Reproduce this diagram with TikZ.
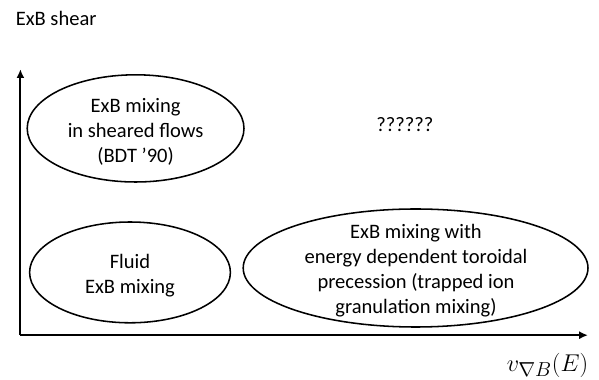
\documentclass[tikz,border=0pt]{standalone}
\usepackage{fontspec}
\setmainfont{Carlito}
\usetikzlibrary{arrows.meta}

\begin{document}
\begin{tikzpicture}[line width=1.1pt,>={Latex[length=2.2mm,width=2mm]},
  region/.style={line width=1.1pt},
  regtext/.style={align=center,inner sep=0pt,font=\fontsize{14.6}{17.8}\selectfont}]
\useasboundingbox (0,0) rectangle (14.975,9.5);
% ================= axes =================
\coordinate (origin) at (0.51,1.12);
\coordinate (ytip) at (0.51,7.77);
\coordinate (xtip) at (14.70,1.12);
\draw[->,line width=1.3pt] (origin) -- (ytip);
\draw[->,line width=1.3pt] (origin) -- (xtip);
\node[anchor=base west,inner sep=0pt,font=\fontsize{14.6}{17.8}\selectfont] (ylab) at (0.375,8.85) {ExB shear};
\node[anchor=base east,inner sep=0pt,font=\fontsize{19}{22}\selectfont] (xlab) at (14.725,0.22) {$v_{\nabla B}(E)$};
% ================= regimes =================
% sheared flows (top left)
\node[regtext] (sheared) at (3.39,6.20) {ExB mixing\\in sheared flows\\(BDT \textquoteright 90)};
\draw[region] (3.39,6.29) ellipse (2.71 and 1.34);
% fluid (bottom left)
\node[regtext] (fluid) at (3.25,2.61) {Fluid\\ExB mixing};
\draw[region] (3.25,2.69) ellipse (2.51 and 1.26);
% precession (bottom right)
\node[regtext] (prec) at (10.40,2.725) {ExB mixing with\\energy dependent toroidal\\precession (trapped ion\\granulation mixing)};
\draw[region] (10.39,2.80) ellipse (4.31 and 1.475);
% unknown corner
\node[regtext] (unknown) at (10.125,6.375) {??????};
\end{tikzpicture}
\end{document}
